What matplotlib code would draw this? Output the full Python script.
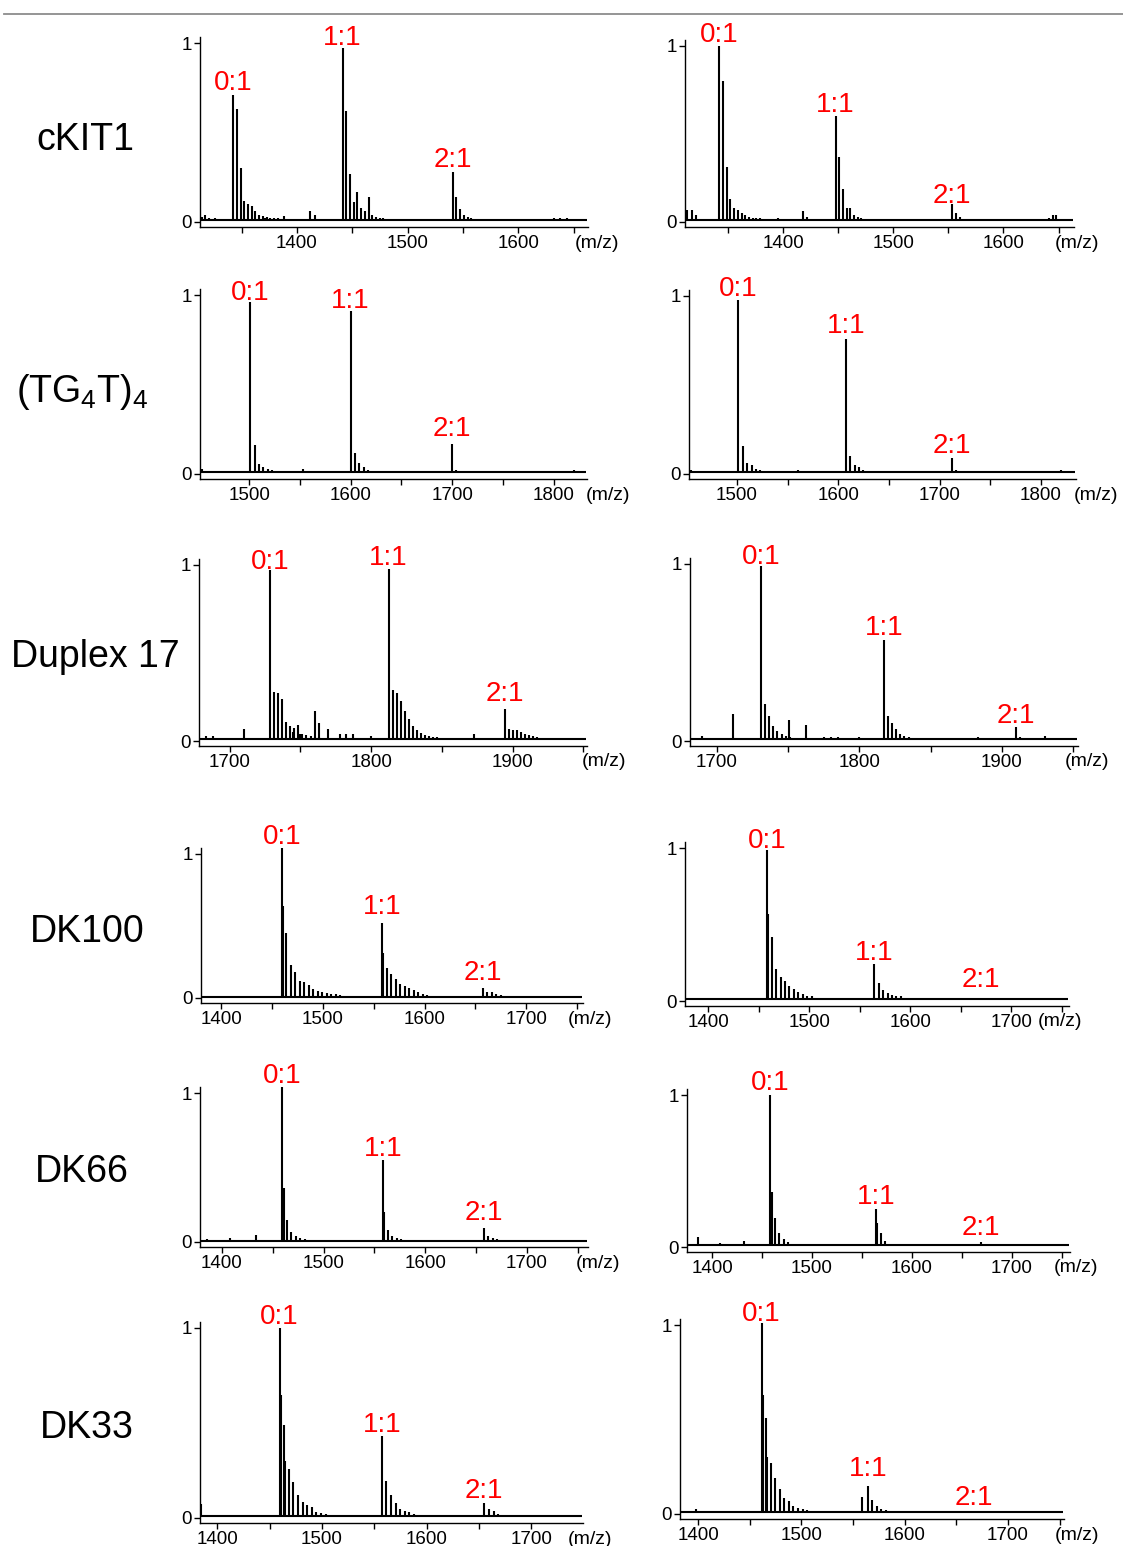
import numpy as np
import matplotlib
matplotlib.use("Agg")
import matplotlib.pyplot as plt
from matplotlib.lines import Line2D

plt.rcParams["font.family"] = ["Liberation Sans", "DejaVu Sans"]
plt.rcParams["mathtext.fontset"] = "custom"
plt.rcParams["mathtext.rm"] = "Liberation Sans"

W, H = 1123, 1546

SAMPLES = ["cKIT1", r"(TG$_\mathregular{4}$T)$_\mathregular{4}$", "Duplex 17", "DK100", "DK66", "DK33"]
STOICH = ["0:1", "1:1", "2:1"]
# m/z shift between successive adduct peaks, per sample
ADDUCT_STEP = [3.35, 4.3, 2.83, 4.4, 4.4, 4.4]

# ---- cKIT1 ----
CKIT1_L_MAIN = [1342.5, 1441.3, 1540.8]
CKIT1_L_H = [[0.71, 0.63, 0.30, 0.12, 0.10, 0.09, 0.06, 0.04, 0.035, 0.03, 0.025, 0.02, 0.02, 0.015],
             [0.97, 0.62, 0.27, 0.11, 0.17, 0.08, 0.06, 0.14, 0.04, 0.03, 0.025, 0.02, 0.015],
             [0.28, 0.14, 0.07, 0.04, 0.03, 0.02, 0.015]]
CKIT1_L_XMZ = [1314, 1317, 1321, 1326, 1371, 1388, 1412, 1416, 1480, 1510, 1575, 1600, 1632, 1638, 1644, 1650]
CKIT1_L_XH = [0.03, 0.04, 0.025, 0.02, 0.02, 0.035, 0.06, 0.04, 0.012, 0.012, 0.012, 0.012, 0.02, 0.025, 0.02, 0.015]

CKIT1_R_MAIN = [1342.2, 1447.6, 1553.4]
CKIT1_R_H = [[1.0, 0.80, 0.31, 0.13, 0.08, 0.07, 0.05, 0.04, 0.03, 0.025, 0.02, 0.02, 0.015],
             [0.60, 0.37, 0.19, 0.08, 0.08, 0.04, 0.03, 0.02],
             [0.10, 0.05, 0.03, 0.015]]
CKIT1_R_XMZ = [1313, 1317, 1321, 1395, 1418, 1422, 1480, 1497, 1580, 1641, 1645, 1648]
CKIT1_R_XH = [0.07, 0.07, 0.04, 0.02, 0.06, 0.03, 0.015, 0.015, 0.01, 0.02, 0.04, 0.04]

# ---- (TG4T)4 ----
TG4T_L_MAIN = [1501.0, 1599.8, 1699.5]
TG4T_L_H = [[0.96, 0.16, 0.055, 0.04, 0.03, 0.02, 0.015],
            [0.91, 0.12, 0.06, 0.04, 0.025, 0.015],
            [0.17, 0.02, 0.015]]
TG4T_L_XMZ = [1453, 1553, 1565, 1665, 1740, 1800, 1820, 1830]
TG4T_L_XH = [0.03, 0.03, 0.01, 0.01, 0.01, 0.01, 0.02, 0.01]

TG4T_R_MAIN = [1501.4, 1607.6, 1712.3]
TG4T_R_H = [[0.98, 0.16, 0.06, 0.05, 0.03, 0.02, 0.015],
            [0.76, 0.10, 0.05, 0.04, 0.02, 0.015],
            [0.09, 0.02]]
TG4T_R_XMZ = [1455, 1545, 1560, 1645, 1800, 1815, 1820, 1828]
TG4T_R_XH = [0.02, 0.01, 0.02, 0.01, 0.01, 0.01, 0.02, 0.015]

# ---- Duplex 17 ----
DUP17_L_MAIN = [1728.8, 1812.3, 1894.3]
DUP17_L_H = [[0.97, 0.28, 0.27, 0.24, 0.11, 0.085, 0.075, 0.09, 0.04, 0.035, 0.03, 0.025, 0.02],
             [0.98, 0.29, 0.27, 0.23, 0.17, 0.125, 0.085, 0.06, 0.045, 0.035, 0.03, 0.025, 0.02, 0.015, 0.01],
             [0.18, 0.07, 0.065, 0.06, 0.05, 0.04, 0.035, 0.03, 0.02, 0.01]]
DUP17_L_XMZ = [1683, 1688, 1710, 1745, 1750, 1760.6, 1763, 1769.5, 1778, 1782, 1787, 1800, 1872.5]
DUP17_L_XH = [0.03, 0.03, 0.07, 0.05, 0.04, 0.17, 0.10, 0.07, 0.04, 0.04, 0.04, 0.03, 0.04]

DUP17_R_MAIN = [1731.3, 1817.5, 1909.9]
DUP17_R_H = [[0.99, 0.21, 0.14, 0.085, 0.055, 0.04, 0.03, 0.02, 0.015],
             [0.57, 0.14, 0.10, 0.07, 0.04, 0.03, 0.02, 0.015],
             [0.08, 0.02, 0.015]]
DUP17_R_XMZ = [1690, 1711.5, 1750.8, 1762.5, 1775, 1780, 1785, 1800, 1883, 1929.9]
DUP17_R_XH = [0.03, 0.15, 0.12, 0.09, 0.02, 0.02, 0.02, 0.02, 0.02, 0.03]

# ---- DK100 ----
DK100_L_MAIN = [1459.7, 1558.5, 1657.3]
DK100_L_H = [[1.04, 0.45, 0.23, 0.18, 0.12, 0.11, 0.09, 0.065, 0.05, 0.04, 0.035, 0.03, 0.025, 0.02, 0.015, 0.01, 0.01],
             [0.52, 0.21, 0.17, 0.13, 0.10, 0.08, 0.07, 0.055, 0.04, 0.03, 0.02, 0.015, 0.01],
             [0.07, 0.045, 0.04, 0.03, 0.02, 0.015, 0.01]]
DK100_L_XMZ = [1390, 1420, 1440, 1460.8, 1559.6]
DK100_L_XH = [0.01, 0.01, 0.01, 0.64, 0.31]

DK100_R_MAIN = [1458.4, 1564.2, 1669.3]
DK100_R_H = [[0.99, 0.42, 0.21, 0.16, 0.13, 0.10, 0.076, 0.06, 0.045, 0.035, 0.03, 0.02, 0.015, 0.01, 0.01],
             [0.24, 0.12, 0.07, 0.05, 0.04, 0.035, 0.03, 0.02, 0.015, 0.01, 0.01],
             [0.015, 0.012, 0.01]]
DK100_R_XMZ = [1400, 1432, 1459.5]
DK100_R_XH = [0.01, 0.01, 0.57]

# ---- DK66 ----
DK66_L_MAIN = [1459.5, 1558.5, 1657.3]
DK66_L_H = [[1.04, 0.15, 0.065, 0.04, 0.03, 0.02, 0.015, 0.01],
            [0.55, 0.08, 0.04, 0.03, 0.02, 0.01],
            [0.095, 0.04, 0.03, 0.02, 0.01]]
DK66_L_XMZ = [1385, 1408, 1433, 1460.7, 1559.7]
DK66_L_XH = [0.02, 0.03, 0.05, 0.36, 0.20]

DK66_R_MAIN = [1458.4, 1564.2, 1669.3]
DK66_R_H = [[1.0, 0.19, 0.09, 0.05, 0.03, 0.02, 0.015],
            [0.25, 0.09, 0.04, 0.02, 0.015],
            [0.03, 0.015, 0.01]]
DK66_R_XMZ = [1386, 1408, 1432, 1459.6, 1565.4]
DK66_R_XH = [0.065, 0.025, 0.04, 0.36, 0.16]

# ---- DK33 ----
DK33_L_MAIN = [1459.5, 1557.0, 1655.0]
DK33_L_H = [[1.0, 0.49, 0.26, 0.19, 0.12, 0.085, 0.067, 0.06, 0.03, 0.025, 0.02, 0.015, 0.01],
            [0.43, 0.195, 0.12, 0.08, 0.05, 0.035, 0.03, 0.02, 0.015, 0.01],
            [0.08, 0.05, 0.035, 0.02, 0.01]]
DK33_L_XMZ = [1384.5, 1390, 1430, 1445, 1460.7, 1465.0]
DK33_L_XH = [0.075, 0.015, 0.01, 0.01, 0.65, 0.30]

DK33_R_MAIN = [1461.4, 1564.2, 1667.3]
DK33_R_H = [[1.01, 0.51, 0.27, 0.19, 0.13, 0.083, 0.07, 0.042, 0.03, 0.025, 0.02, 0.015, 0.01],
            [0.15, 0.075, 0.042, 0.025, 0.02, 0.015, 0.01],
            [0.01, 0.01]]
DK33_R_XMZ = [1384, 1398, 1455, 1462.4, 1466.9, 1558.7]
DK33_R_XH = [0.016, 0.025, 0.01, 0.63, 0.30, 0.09]

SPECTRA = [
    [(CKIT1_L_MAIN, CKIT1_L_H, CKIT1_L_XMZ, CKIT1_L_XH), (CKIT1_R_MAIN, CKIT1_R_H, CKIT1_R_XMZ, CKIT1_R_XH)],
    [(TG4T_L_MAIN, TG4T_L_H, TG4T_L_XMZ, TG4T_L_XH), (TG4T_R_MAIN, TG4T_R_H, TG4T_R_XMZ, TG4T_R_XH)],
    [(DUP17_L_MAIN, DUP17_L_H, DUP17_L_XMZ, DUP17_L_XH), (DUP17_R_MAIN, DUP17_R_H, DUP17_R_XMZ, DUP17_R_XH)],
    [(DK100_L_MAIN, DK100_L_H, DK100_L_XMZ, DK100_L_XH), (DK100_R_MAIN, DK100_R_H, DK100_R_XMZ, DK100_R_XH)],
    [(DK66_L_MAIN, DK66_L_H, DK66_L_XMZ, DK66_L_XH), (DK66_R_MAIN, DK66_R_H, DK66_R_XMZ, DK66_R_XH)],
    [(DK33_L_MAIN, DK33_L_H, DK33_L_XMZ, DK33_L_XH), (DK33_R_MAIN, DK33_R_H, DK33_R_XMZ, DK33_R_XH)],
]

# panel frames in pixels: y-axis x, axis end x, y of 0, px per unit, m/z range
FRAMES = [
    [(200, 588, 222, 179, 1312.5, 1663), (685, 1074, 222, 176, 1311, 1664)],
    [(200, 587, 474, 179, 1451.3, 1833), (689, 1076, 474, 178, 1452.6, 1834.6)],
    [(199, 587, 741, 176, 1678.3, 1952.5), (690, 1078, 741, 177, 1681.3, 1953.3)],
    [(201, 583, 998, 144, 1380, 1756), (685, 1069, 1001, 153, 1377, 1757)],
    [(200, 588, 1242, 149, 1378.4, 1760), (687, 1070, 1247, 152, 1375, 1758)],
    [(200, 583, 1518, 190, 1383.5, 1749.2), (680, 1064, 1514, 189, 1382.3, 1754.3)],
]
# baseline height of the red stoichiometry labels
LABEL_Y = [
    [[0.74, 0.99, 0.31], [1.02, 0.625, 0.11]],
    [[0.97, 0.93, 0.21], [1.0, 0.79, 0.12]],
    [[0.98, 1.0, 0.23], [1.0, 0.6, 0.10]],
    [[1.07, 0.58, 0.125], [1.0, 0.27, 0.09]],
    [[1.07, 0.58, 0.15], [1.03, 0.28, 0.08]],
    [[1.02, 0.45, 0.105], [1.02, 0.20, 0.05]],
]
MZ_LABEL_X = [[597, 1077], [608, 1096], [604, 1087], [590, 1060], [598, 1076], [590, 1077]]
NAME_POS = [(85, 140), (82, 392), (95, 657), (87, 932), (82, 1172), (87, 1428)]

fig = plt.figure(figsize=(W / 100, H / 100), dpi=100)
fig.add_artist(Line2D([4 / W, 1], [1 - 14 / H, 1 - 14 / H], color="#8c8c8c", lw=1.3))

for r in range(6):
    fig.text(NAME_POS[r][0] / W, 1 - NAME_POS[r][1] / H, SAMPLES[r],
             fontsize=27, ha="center", va="center")
    for c in range(2):
        x0, x1, y0, unit, xmin, xmax = FRAMES[r][c]
        bottom_px = y0 + 5
        top_px = y0 - unit - 6
        ax = fig.add_axes([x0 / W, 1 - bottom_px / H, (x1 - x0) / W, (bottom_px - top_px) / H])
        ax.set_xlim(xmin, xmax)
        ax.set_ylim(-5 / unit, 1 + 6 / unit)
        ax.patch.set_visible(False)
        for s in ("top", "right"):
            ax.spines[s].set_visible(False)
        for s in ("left", "bottom"):
            ax.spines[s].set_linewidth(1.0)

        main, heights, xmz, xh = SPECTRA[r][c]
        step = ADDUCT_STEP[r]
        ax.hlines(0.01, xmin + 1, xmax - 1, color="black", lw=1.5)
        for m, hs in zip(main, heights):
            pos = m + step * np.arange(len(hs))
            ax.vlines(pos, 0.01, hs, color="black", lw=1.5, clip_on=False)
        ax.vlines(xmz, 0.01, xh, color="black", lw=1.5)

        for m, txt, ly in zip(main, STOICH, LABEL_Y[r][c]):
            ax.text(m, ly, txt, color="#ff0000", fontsize=20, ha="center", va="baseline")

        ticks = np.arange(np.ceil(xmin / 50) * 50, xmax, 50)
        ax.set_xticks(ticks)
        ax.set_xticklabels([str(int(t)) if t % 100 == 0 else "" for t in ticks])
        ax.set_yticks([0, 1])
        ax.set_yticklabels(["0", "1"])
        ax.tick_params(direction="out", length=4, width=1, labelsize=13.5, pad=2)

        fig.text(MZ_LABEL_X[r][c] / W, 1 - (bottom_px + 16) / H, "(m/z)",
                 fontsize=14, ha="center", va="center")

fig.savefig("out.png", dpi=100)
